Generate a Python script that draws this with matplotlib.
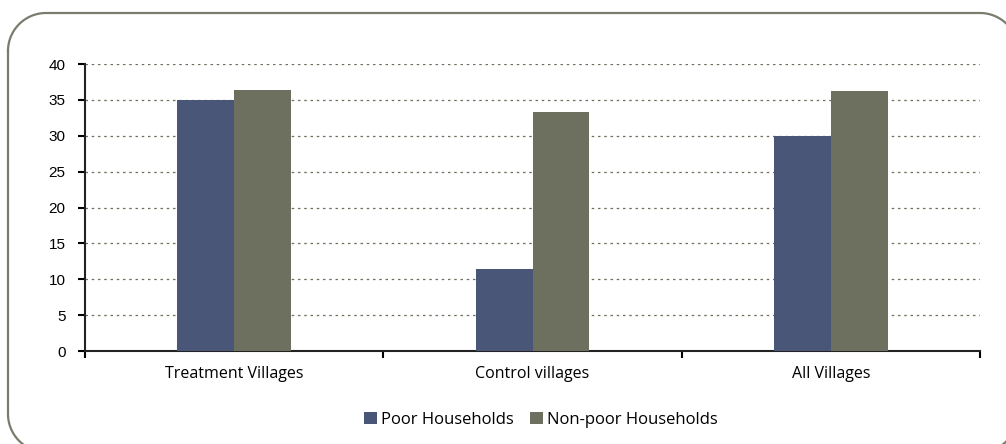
import matplotlib
matplotlib.use("Agg")
import matplotlib.pyplot as plt
import numpy as np

categories = ["Treatment Villages", "Control villages", "All Villages"]
poor = [35.0, 11.4, 30.0]
nonpoor = [36.4, 33.3, 36.2]
series_names = ["Poor Households", "Non-poor Households"]

c_poor = "#4a5677"
c_nonpoor = "#6e705f"

fig = plt.figure(figsize=(10.06, 4.44), dpi=100)

# background axes in pixel units (y down) for the rounded frame
bg = fig.add_axes([0, 0, 1, 1])
bg.set_xlim(0, 1006)
bg.set_ylim(444, 0)
bg.axis("off")
x0, y0, x1, y1, r = 8, 13, 1018, 452, 38
t = np.linspace(0, np.pi / 2, 30)
px, py = [], []
# top-left, top-right, bottom-right, bottom-left corners
for cx, cy, a0 in [(x0 + r, y0 + r, np.pi), (x1 - r, y0 + r, 1.5 * np.pi),
                   (x1 - r, y1 - r, 0), (x0 + r, y1 - r, 0.5 * np.pi)]:
    px += list(cx + r * np.cos(a0 + t))
    py += list(cy + r * np.sin(a0 + t))
px.append(px[0]); py.append(py[0])
bg.plot(px, py, color="#7a7c6e", linewidth=1.6, clip_on=False,
        solid_joinstyle="round")

ax = fig.add_axes([85/1006, 1 - 351/444, 895/1006, 287/444])
x = np.arange(len(categories))
w = 0.19
ax.bar(x - w/2, poor, w, color=c_poor, label=series_names[0], zorder=3)
ax.bar(x + w/2, nonpoor, w, color=c_nonpoor, label=series_names[1], zorder=3)

ax.set_xlim(-0.5, 2.5)
ax.set_ylim(0, 40)
ax.set_yticks(range(0, 41, 5))
ax.yaxis.grid(True, linestyle=(0, (2, 3)), color="#6e705f", linewidth=0.9, zorder=0)
ax.set_xticks([-0.5, 0.5, 1.5, 2.5])
ax.set_xticklabels([])
ax.set_xticks(x, minor=True)
ax.set_xticklabels(categories, minor=True, fontfamily="Open Sans", fontsize=11.5)
ax.tick_params(axis="x", which="minor", length=0, pad=11)
ax.tick_params(axis="x", which="major", length=5, width=1.5, direction="out")
ax.tick_params(axis="y", length=5, width=1.5, labelsize=11, pad=9)
for lab in ax.get_yticklabels():
    lab.set_fontfamily("Liberation Sans")
for s in ["top", "right"]:
    ax.spines[s].set_visible(False)
ax.spines["left"].set_linewidth(1.5)
ax.spines["bottom"].set_linewidth(1.5)
ax.spines["left"].set_color("#222222")
ax.spines["bottom"].set_color("#222222")

leg = fig.legend(loc="center", bbox_to_anchor=(541/1006, 1 - 420/444), ncol=2,
                 frameon=False, prop={"family": "Open Sans", "size": 12},
                 handlelength=0.75, handleheight=0.75, handletextpad=0.25,
                 columnspacing=1.0)

fig.savefig("out.png", dpi=100)
